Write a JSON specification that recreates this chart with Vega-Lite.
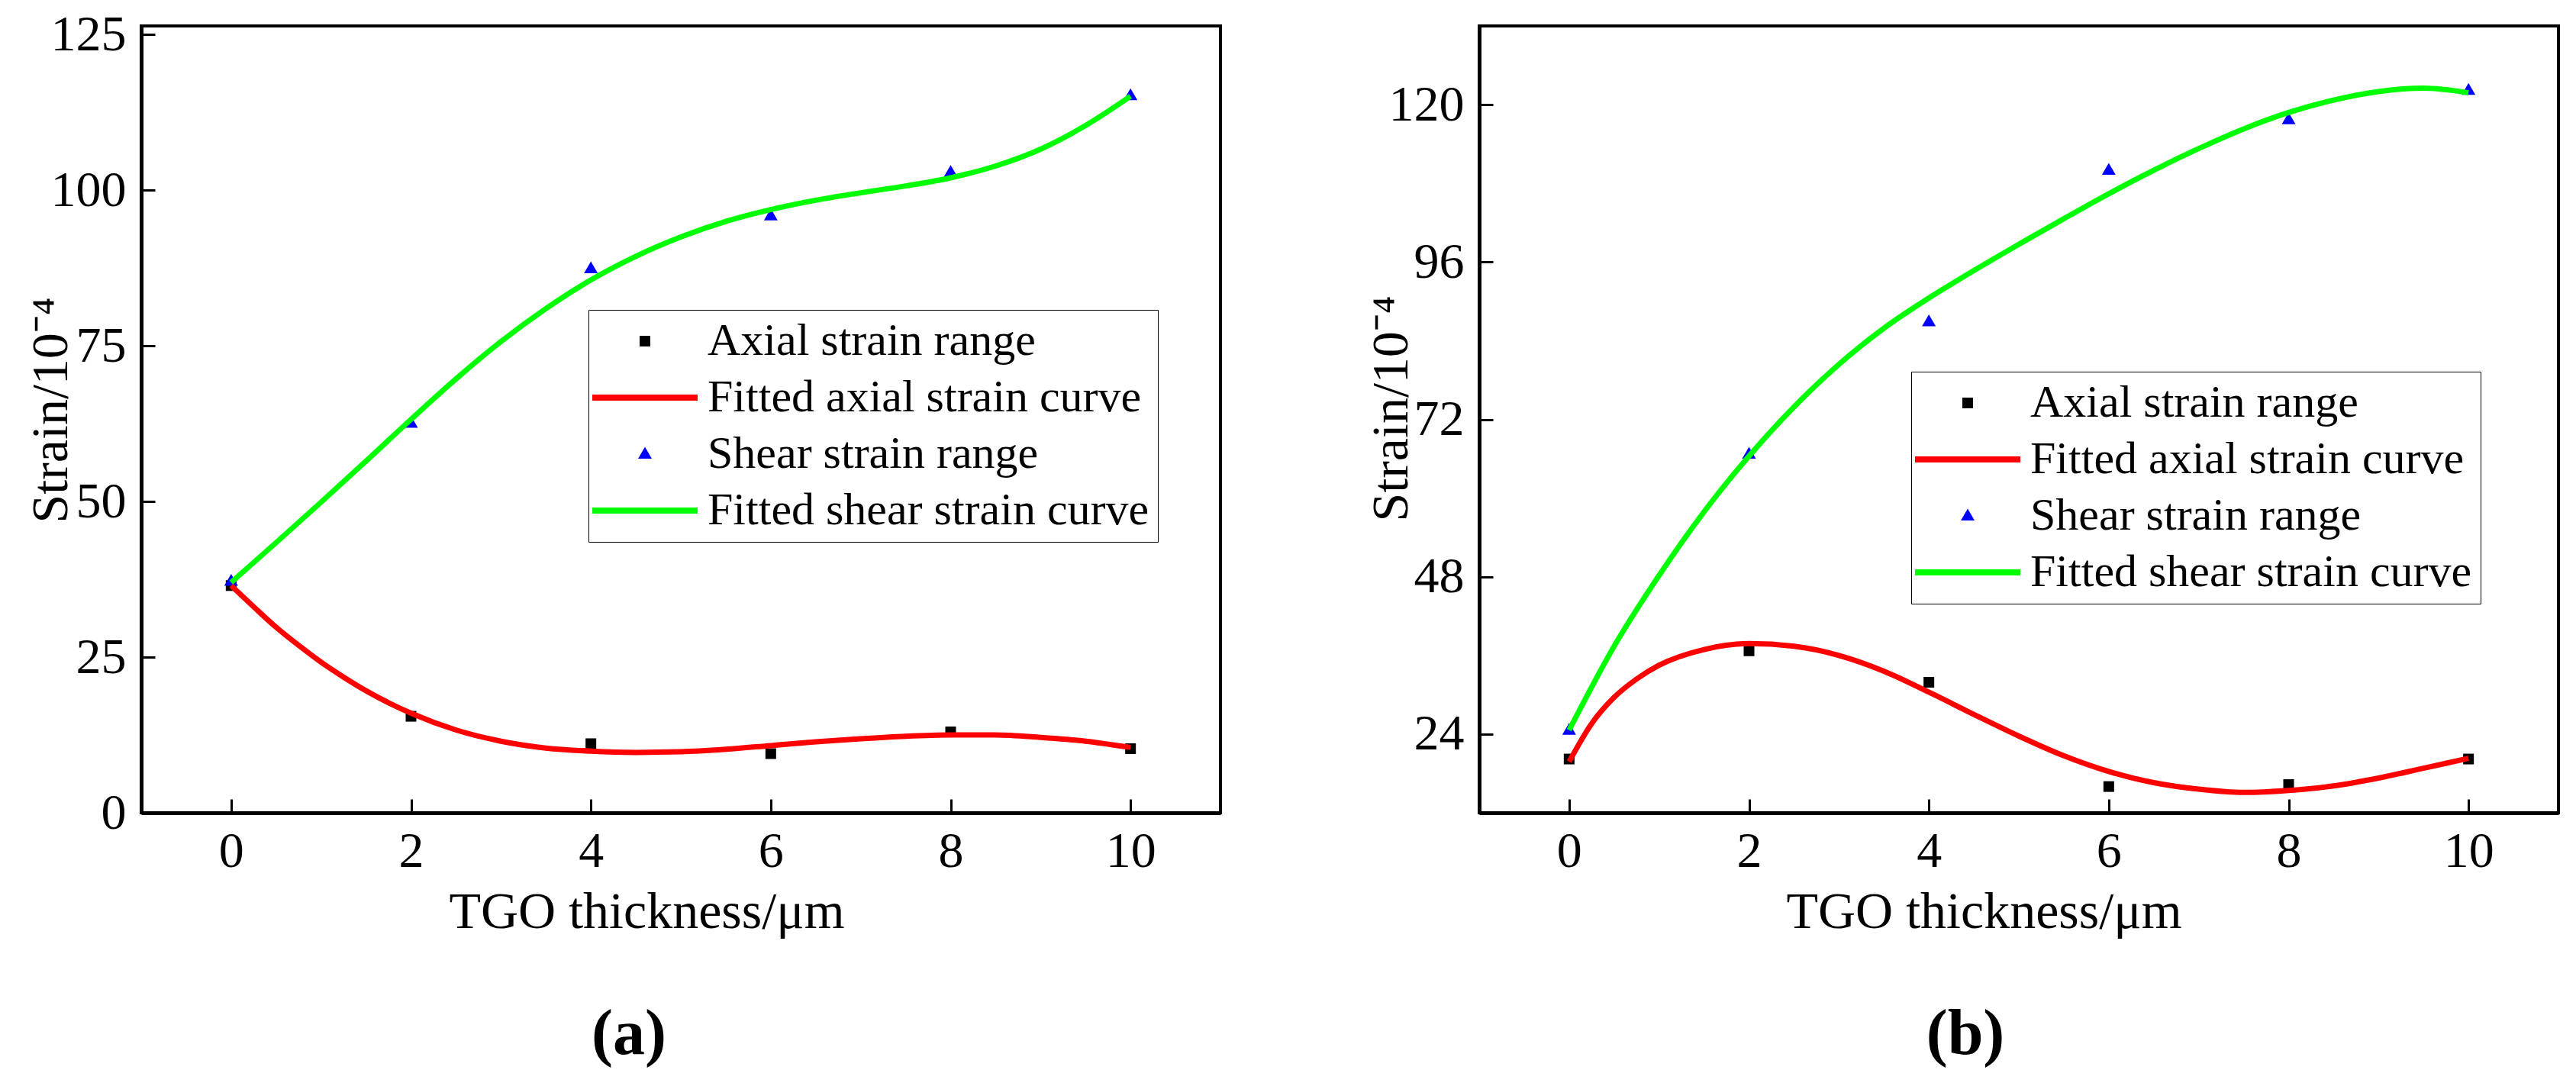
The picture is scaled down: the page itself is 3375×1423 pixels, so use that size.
{
  "$schema": "https://vega.github.io/schema/vega-lite/v6.json",
  "background": "white",
  "padding": {"left": 31, "top": 10, "right": 0, "bottom": 0},
  "autosize": {"type": "pad"},
  "datasets": {
    "a_pts": [
      {"x": 0, "y": 36.5, "series": "Axial strain range"},
      {"x": 2, "y": 15.5, "series": "Axial strain range"},
      {"x": 4, "y": 11.1, "series": "Axial strain range"},
      {"x": 6, "y": 9.5, "series": "Axial strain range"},
      {"x": 8, "y": 13.0, "series": "Axial strain range"},
      {"x": 10, "y": 10.3, "series": "Axial strain range"},
      {"x": 0, "y": 37.2, "series": "Shear strain range"},
      {"x": 2, "y": 62.6, "series": "Shear strain range"},
      {"x": 4, "y": 87.4, "series": "Shear strain range"},
      {"x": 6, "y": 95.9, "series": "Shear strain range"},
      {"x": 8, "y": 102.9, "series": "Shear strain range"},
      {"x": 10, "y": 115.2, "series": "Shear strain range"}
    ],
    "a_fit": [
      {"x": 0, "y": 36.5, "series": "Fitted axial strain curve"},
      {"x": 0.25, "y": 33.1, "series": "Fitted axial strain curve"},
      {"x": 0.5, "y": 29.8, "series": "Fitted axial strain curve"},
      {"x": 0.75, "y": 26.9, "series": "Fitted axial strain curve"},
      {"x": 1, "y": 24.2, "series": "Fitted axial strain curve"},
      {"x": 1.25, "y": 21.8, "series": "Fitted axial strain curve"},
      {"x": 1.5, "y": 19.6, "series": "Fitted axial strain curve"},
      {"x": 2, "y": 16.0, "series": "Fitted axial strain curve"},
      {"x": 2.5, "y": 13.3, "series": "Fitted axial strain curve"},
      {"x": 3, "y": 11.5, "series": "Fitted axial strain curve"},
      {"x": 3.5, "y": 10.4, "series": "Fitted axial strain curve"},
      {"x": 4, "y": 9.9, "series": "Fitted axial strain curve"},
      {"x": 4.5, "y": 9.7, "series": "Fitted axial strain curve"},
      {"x": 5, "y": 9.8, "series": "Fitted axial strain curve"},
      {"x": 5.5, "y": 10.2, "series": "Fitted axial strain curve"},
      {"x": 6, "y": 10.8, "series": "Fitted axial strain curve"},
      {"x": 6.5, "y": 11.4, "series": "Fitted axial strain curve"},
      {"x": 7, "y": 11.9, "series": "Fitted axial strain curve"},
      {"x": 7.5, "y": 12.3, "series": "Fitted axial strain curve"},
      {"x": 8, "y": 12.5, "series": "Fitted axial strain curve"},
      {"x": 8.5, "y": 12.5, "series": "Fitted axial strain curve"},
      {"x": 9, "y": 12.1, "series": "Fitted axial strain curve"},
      {"x": 9.5, "y": 11.5, "series": "Fitted axial strain curve"},
      {"x": 10, "y": 10.5, "series": "Fitted axial strain curve"},
      {"x": 0, "y": 37.0, "series": "Fitted shear strain curve"},
      {"x": 0.5, "y": 43.4, "series": "Fitted shear strain curve"},
      {"x": 1, "y": 49.9, "series": "Fitted shear strain curve"},
      {"x": 1.5, "y": 56.5, "series": "Fitted shear strain curve"},
      {"x": 2, "y": 63.2, "series": "Fitted shear strain curve"},
      {"x": 2.5, "y": 69.7, "series": "Fitted shear strain curve"},
      {"x": 3, "y": 75.7, "series": "Fitted shear strain curve"},
      {"x": 3.5, "y": 81.0, "series": "Fitted shear strain curve"},
      {"x": 4, "y": 85.6, "series": "Fitted shear strain curve"},
      {"x": 4.5, "y": 89.4, "series": "Fitted shear strain curve"},
      {"x": 5, "y": 92.5, "series": "Fitted shear strain curve"},
      {"x": 5.5, "y": 95.0, "series": "Fitted shear strain curve"},
      {"x": 6, "y": 96.9, "series": "Fitted shear strain curve"},
      {"x": 6.5, "y": 98.4, "series": "Fitted shear strain curve"},
      {"x": 7, "y": 99.6, "series": "Fitted shear strain curve"},
      {"x": 7.5, "y": 100.7, "series": "Fitted shear strain curve"},
      {"x": 8, "y": 102.0, "series": "Fitted shear strain curve"},
      {"x": 8.5, "y": 103.9, "series": "Fitted shear strain curve"},
      {"x": 9, "y": 106.6, "series": "Fitted shear strain curve"},
      {"x": 9.5, "y": 110.4, "series": "Fitted shear strain curve"},
      {"x": 10, "y": 115.1, "series": "Fitted shear strain curve"}
    ],
    "b_pts": [
      {"x": 0, "y": 20.2, "series": "Axial strain range"},
      {"x": 2, "y": 36.7, "series": "Axial strain range"},
      {"x": 4, "y": 31.9, "series": "Axial strain range"},
      {"x": 6, "y": 16.0, "series": "Axial strain range"},
      {"x": 8, "y": 16.3, "series": "Axial strain range"},
      {"x": 10, "y": 20.2, "series": "Axial strain range"},
      {"x": 0, "y": 24.6, "series": "Shear strain range"},
      {"x": 2, "y": 66.7, "series": "Shear strain range"},
      {"x": 4, "y": 86.9, "series": "Shear strain range"},
      {"x": 6, "y": 110.0, "series": "Shear strain range"},
      {"x": 8, "y": 117.7, "series": "Shear strain range"},
      {"x": 10, "y": 122.2, "series": "Shear strain range"}
    ],
    "b_fit": [
      {"x": 0, "y": 19.8, "series": "Fitted axial strain curve"},
      {"x": 0.25, "y": 25.6, "series": "Fitted axial strain curve"},
      {"x": 0.5, "y": 29.6, "series": "Fitted axial strain curve"},
      {"x": 0.75, "y": 32.4, "series": "Fitted axial strain curve"},
      {"x": 1, "y": 34.5, "series": "Fitted axial strain curve"},
      {"x": 1.5, "y": 36.9, "series": "Fitted axial strain curve"},
      {"x": 2, "y": 37.8, "series": "Fitted axial strain curve"},
      {"x": 2.5, "y": 37.4, "series": "Fitted axial strain curve"},
      {"x": 3, "y": 36.0, "series": "Fitted axial strain curve"},
      {"x": 3.5, "y": 33.6, "series": "Fitted axial strain curve"},
      {"x": 4, "y": 30.4, "series": "Fitted axial strain curve"},
      {"x": 4.5, "y": 27.0, "series": "Fitted axial strain curve"},
      {"x": 5, "y": 23.7, "series": "Fitted axial strain curve"},
      {"x": 5.5, "y": 20.7, "series": "Fitted axial strain curve"},
      {"x": 6, "y": 18.3, "series": "Fitted axial strain curve"},
      {"x": 6.5, "y": 16.6, "series": "Fitted axial strain curve"},
      {"x": 7, "y": 15.6, "series": "Fitted axial strain curve"},
      {"x": 7.5, "y": 15.1, "series": "Fitted axial strain curve"},
      {"x": 8, "y": 15.4, "series": "Fitted axial strain curve"},
      {"x": 8.5, "y": 16.1, "series": "Fitted axial strain curve"},
      {"x": 9, "y": 17.3, "series": "Fitted axial strain curve"},
      {"x": 9.5, "y": 18.8, "series": "Fitted axial strain curve"},
      {"x": 10, "y": 20.3, "series": "Fitted axial strain curve"},
      {"x": 0, "y": 24.6, "series": "Fitted shear strain curve"},
      {"x": 0.5, "y": 37.4, "series": "Fitted shear strain curve"},
      {"x": 1, "y": 48.2, "series": "Fitted shear strain curve"},
      {"x": 1.5, "y": 57.9, "series": "Fitted shear strain curve"},
      {"x": 2, "y": 66.4, "series": "Fitted shear strain curve"},
      {"x": 2.5, "y": 73.9, "series": "Fitted shear strain curve"},
      {"x": 3, "y": 80.4, "series": "Fitted shear strain curve"},
      {"x": 3.5, "y": 85.9, "series": "Fitted shear strain curve"},
      {"x": 4, "y": 90.5, "series": "Fitted shear strain curve"},
      {"x": 4.5, "y": 94.7, "series": "Fitted shear strain curve"},
      {"x": 5, "y": 98.7, "series": "Fitted shear strain curve"},
      {"x": 5.5, "y": 102.6, "series": "Fitted shear strain curve"},
      {"x": 6, "y": 106.4, "series": "Fitted shear strain curve"},
      {"x": 6.5, "y": 110.0, "series": "Fitted shear strain curve"},
      {"x": 7, "y": 113.3, "series": "Fitted shear strain curve"},
      {"x": 7.5, "y": 116.3, "series": "Fitted shear strain curve"},
      {"x": 8, "y": 118.8, "series": "Fitted shear strain curve"},
      {"x": 8.5, "y": 120.7, "series": "Fitted shear strain curve"},
      {"x": 9, "y": 122.0, "series": "Fitted shear strain curve"},
      {"x": 9.5, "y": 122.5, "series": "Fitted shear strain curve"},
      {"x": 10, "y": 121.8, "series": "Fitted shear strain curve"}
    ]
  },
  "hconcat": [
    {
      "width": 1414,
      "height": 1031,
      "title": {"text": "(a)", "orient": "bottom", "anchor": "middle", "dx": -68, "offset": 86, "fontSize": 84, "fontWeight": "bold", "font": "Liberation Serif", "color": "black"},
      "layer": [
        {
          "data": {"name": "a_pts"},
          "mark": {"type": "point", "filled": true, "size": 400, "opacity": 1},
          "encoding": {
            "x": {"field": "x", "type": "quantitative",
              "scale": {"domain": [-1, 11], "nice": false, "zero": false},
              "axis": {"values": [0, 2, 4, 6, 8, 10], "format": "d", "labelFont": "Liberation Serif", "title": "TGO thickness/μm", "titleX": 662, "titleY": 150, "titleBaseline": "alphabetic"}},
            "y": {"field": "y", "type": "quantitative",
              "scale": {"domain": [0, 126.4], "nice": false, "zero": false},
              "axis": {"values": [0, 25, 50, 75, 100, 125], "format": "d", "labelFont": "Liberation Serif", "title": "Strain/10⁻⁴", "titleX": -98, "titleY": 503, "titleBaseline": "alphabetic"}},
            "color": {"field": "series", "type": "nominal",
              "scale": {"domain": ["Axial strain range", "Fitted axial strain curve", "Shear strain range", "Fitted shear strain curve"], "range": ["#000000", "#ff0000", "#0000ff", "#00ff00"]},
              "legend": {"title": null, "orient": "none", "legendX": 586, "legendY": 372}},
            "shape": {"field": "series", "type": "nominal",
              "scale": {"domain": ["Axial strain range", "Fitted axial strain curve", "Shear strain range", "Fitted shear strain curve"], "range": ["M-0.7,-0.7H0.7V0.7H-0.7Z", "M-6.9,-0.4H6.9V0.4H-6.9Z", "M0,-0.95L0.9,0.6L-0.9,0.6Z", "M-6.9,-0.4H6.9V0.4H-6.9Z"]},
              "legend": {"title": null, "orient": "none", "legendX": 586, "legendY": 372}}
          }
        },
        {
          "data": {"name": "a_fit"},
          "mark": {"type": "line", "interpolate": "monotone", "strokeWidth": 7},
          "encoding": {
            "x": {"field": "x", "type": "quantitative"},
            "y": {"field": "y", "type": "quantitative"},
            "color": {"field": "series", "type": "nominal", "legend": null}
          }
        }
      ]
    },
    {
      "width": 1414,
      "height": 1031,
      "title": {"text": "(b)", "orient": "bottom", "anchor": "middle", "dx": -70, "offset": 86, "fontSize": 84, "fontWeight": "bold", "font": "Liberation Serif", "color": "black"},
      "layer": [
        {
          "data": {"name": "b_pts"},
          "mark": {"type": "point", "filled": true, "size": 400, "opacity": 1},
          "encoding": {
            "x": {"field": "x", "type": "quantitative",
              "scale": {"domain": [-1, 11], "nice": false, "zero": false},
              "axis": {"values": [0, 2, 4, 6, 8, 10], "format": "d", "labelFont": "Liberation Serif", "title": "TGO thickness/μm", "titleX": 661, "titleY": 150, "titleBaseline": "alphabetic"}},
            "y": {"field": "y", "type": "quantitative",
              "scale": {"domain": [12, 132], "nice": false, "zero": false},
              "axis": {"values": [24, 48, 72, 96, 120], "format": "d", "labelFont": "Liberation Serif", "title": "Strain/10⁻⁴", "titleX": -95, "titleY": 501, "titleBaseline": "alphabetic"}},
            "color": {"field": "series", "type": "nominal",
              "scale": {"domain": ["Axial strain range", "Fitted axial strain curve", "Shear strain range", "Fitted shear strain curve"], "range": ["#000000", "#ff0000", "#0000ff", "#00ff00"]},
              "legend": {"title": null, "orient": "none", "legendX": 566, "legendY": 453}},
            "shape": {"field": "series", "type": "nominal",
              "scale": {"domain": ["Axial strain range", "Fitted axial strain curve", "Shear strain range", "Fitted shear strain curve"], "range": ["M-0.7,-0.7H0.7V0.7H-0.7Z", "M-6.9,-0.4H6.9V0.4H-6.9Z", "M0,-0.95L0.9,0.6L-0.9,0.6Z", "M-6.9,-0.4H6.9V0.4H-6.9Z"]},
              "legend": {"title": null, "orient": "none", "legendX": 566, "legendY": 453}}
          }
        },
        {
          "data": {"name": "b_fit"},
          "mark": {"type": "line", "interpolate": "monotone", "strokeWidth": 7},
          "encoding": {
            "x": {"field": "x", "type": "quantitative"},
            "y": {"field": "y", "type": "quantitative"},
            "color": {"field": "series", "type": "nominal", "legend": null}
          }
        }
      ]
    }
  ],
  "spacing": 339,
  "bounds": "flush",
  "resolve": {
    "scale": {"color": "independent", "shape": "independent"},
    "legend": {"color": "independent", "shape": "independent"}
  },
  "config": {
    "font": "Liberation Serif",
    "view": {"stroke": "black", "strokeWidth": 4},
    "axis": {
      "grid": false,
      "domainColor": "black",
      "domainWidth": 5,
      "tickColor": "black",
      "tickWidth": 3,
      "tickSize": -18,
      "labelFont": "Liberation Serif",
      "labelFontSize": 66,
      "labelColor": "black",
      "labelFlush": false,
      "labelOverlap": false,
      "labelBound": false,
      "titleFont": "Liberation Serif",
      "titleFontSize": 68,
      "titleFontWeight": "normal",
      "titleColor": "black"
    },
    "axisX": {"labelPadding": 36},
    "axisY": {"labelPadding": 38},
    "legend": {
      "padding": 11,
      "strokeColor": "black",
      "fillColor": "white",
      "symbolSize": 400,
      "symbolStrokeWidth": 0,
      "symbolOffset": 33,
      "labelOffset": 52,
      "labelFont": "Liberation Serif",
      "labelFontSize": 60,
      "labelColor": "black",
      "labelLimit": 0,
      "rowPadding": 14,
      "symbolOpacity": 1
    }
  }
}
